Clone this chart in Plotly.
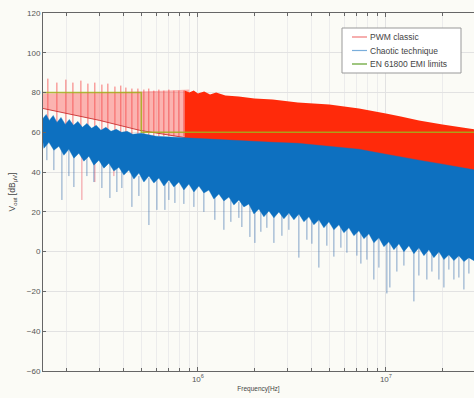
import plotly.graph_objects as go

MHZ = 1e6

# ---- EMI limit (EN 61800) ----
limit_f = [0.15, 0.5, 0.5, 30.0]          # MHz
limit_db = [80, 80, 60, 60]

# ---- PWM classic: pink low-frequency band ----
pink_f = [0.15, 0.3, 0.49, 0.7, 0.9]
pink_top = [79.5, 80, 80.5, 81, 81.5]
pink_floor = [72, 66, 61, 58.5, 57]

# red harmonic spikes (MHz, peak dB)
red_spike_f = [0.1592, 0.1778, 0.1985, 0.2164, 0.2386, 0.260, 0.283, 0.3086, 0.332,
               0.362, 0.389, 0.414, 0.4456, 0.4796, 0.516, 0.548, 0.583, 0.620,
               0.659, 0.701, 0.745, 0.792, 0.842]
red_spike_top = [87, 85, 86.5, 85, 86, 84.5, 85, 84, 84.5, 83, 83.5, 82.5, 82, 82,
                 81.5, 82, 81, 81.5, 81, 81.5, 81, 81, 81]
red_spike_base = 58

# red dips visible below the blue trace
red_dip_f = [0.2415, 0.2831, 0.3574]
red_dip_lo = [26, 35, 38]

# PWM classic solid region (MHz, top, bottom)
red_band_f = [0.85, 0.9, 0.95, 1.0, 1.08, 1.16, 1.25, 1.4, 1.65, 2.0, 2.5, 3.4, 5.0,
              7.2, 10.0, 12.0, 15.0, 20.0, 25.0, 30.0]
red_band_top = [81, 80, 81, 79.5, 80.5, 79, 80, 78.5, 78, 77, 76.5, 75, 74, 72, 69.5,
                68, 66, 64, 62.5, 61.5]
red_band_bot = [55, 55, 55, 55, 55, 55, 55, 55, 54, 53, 53, 52, 51, 49, 47, 45, 43,
                41, 39, 38]

# ---- Chaotic technique: dense band ----
blue_top_f = [0.15, 0.156, 0.162, 0.170, 0.178, 0.187, 0.197, 0.207, 0.218, 0.23,
              0.243, 0.257, 0.272, 0.288, 0.305, 0.324, 0.345, 0.368, 0.393, 0.42,
              0.45, 0.5, 0.6, 0.75, 0.9, 1.2, 1.65, 2.5, 3.4, 5.0, 7.2, 10.0, 12.0,
              15.0, 20.0, 25.0, 30.0]
blue_top_db = [67, 69, 66, 68.5, 65, 67.5, 64, 66.5, 63.5, 65.5, 62.5, 64.5, 62, 63.5,
               61, 62.5, 60.5, 61.5, 60, 60.5, 59, 59.5, 58, 57.5, 57, 56.5, 56, 55,
               54.5, 53, 51.5, 49, 47.5, 46, 44, 42.5, 41]

blue_bot_f = [0.15, 0.1517, 0.1613, 0.1714, 0.1822, 0.1937, 0.206, 0.219, 0.2328,
              0.2475, 0.2632, 0.2798, 0.2975, 0.3162, 0.3362, 0.3574, 0.380, 0.404,
              0.4295, 0.4566, 0.4855, 0.5161, 0.5488, 0.5834, 0.6203, 0.6594, 0.701,
              0.7453, 0.7925, 0.8424, 0.8955, 0.9522, 1.012, 1.076, 1.144, 1.216,
              1.293, 1.375, 1.462, 1.554, 1.652, 1.757, 1.867, 1.986, 2.111, 2.244,
              2.386, 2.537, 2.697, 2.867, 3.048, 3.241, 3.445, 3.663, 3.894, 4.140,
              4.401, 4.68, 4.975, 5.288, 5.623, 5.978, 6.356, 6.757, 7.184, 7.638,
              8.12, 8.63, 9.18, 9.759, 10.37, 11.03, 11.73, 12.47, 13.25, 14.09,
              14.98, 15.93, 16.93, 18.0, 19.14, 20.35, 21.63, 23.0, 24.45, 26.0,
              27.64, 30.0]
blue_bot_db = [55, 52, 55, 51, 53, 48.5, 51.5, 47, 49.5, 45.5, 48, 43.5, 46, 42, 44.5,
               40.5, 42.5, 38.5, 41, 36.5, 39.5, 35, 38, 34.5, 37, 33, 36, 32.5, 35,
               31, 34, 30, 33, 29.5, 31, 26.5, 29, 25.5, 27.5, 23.5, 26, 22.5, 24, 19,
               21.5, 17.5, 20.5, 17, 20, 16.5, 19.5, 16, 19, 15, 17.5, 13.5, 16, 12,
               15, 11, 13.5, 9.5, 12, 8, 10.5, 6.5, 9, 4.5, 7, 2.5, 5, 1, 4, 0, 3, -1,
               2, -2, 1, -3, 0, -4, -1.5, -4.5, -2, -5, -3, -5]

# downward spikes of the chaotic spectrum (MHz, start dB, lowest dB)
blue_spike_f = [0.1573, 0.1714, 0.1891, 0.206, 0.219, 0.2568, 0.2798, 0.3086, 0.3404,
                0.3708, 0.3942, 0.4457, 0.4855, 0.5488, 0.6053, 0.6676, 0.701, 0.7546,
                0.8424, 0.9522, 1.076, 1.231, 1.375, 1.498, 1.652, 1.714, 1.891,
                2.010, 2.163, 2.328, 2.537, 2.798, 3.048, 3.445, 3.8, 4.04, 4.401,
                4.853, 5.288, 5.763, 6.203, 7.01, 7.362, 7.925, 8.63, 9.18, 10.12,
                10.50, 11.44, 12.47, 14.09, 14.98, 16.52, 17.57, 19.14, 20.35, 21.63,
                23.0, 24.45, 26.0, 27.64]
blue_spike_hi = [55, 54, 53, 51, 50, 48, 46, 45, 44, 42, 41, 39, 38, 37, 36, 35, 35,
                 34, 33, 32, 31, 29, 27, 26, 25, 25, 24, 23, 22, 21, 20, 20, 19, 19,
                 17, 16, 16, 15, 14, 13, 12, 11, 10, 9, 8, 7, 5, 5, 4, 3, 2, 2, 1, 0,
                 0, -1, -1, -2, -2, -2, -3]
blue_spike_lo = [46, 41, 26, 38, 32.5, 38, 35, 32, 27, 30, 32, 22.5, 28, 13.4, 21, 21,
                 26, 24.5, 24, 22.5, 20, 16, 11, 15, 17, 12.4, 7.4, 4.4, 10, 12, 4.4, 8,
                 11, -3, 6, 4, -8, 3, -2.5, 2, -0.5, -2, -6, -4, -14, -8, -21, -18, -10,
                 -7, -25, -12, -14, -10, -14, -18, -9, -14, -13, -19, -11]

# ---- legend ----
legend_names = ["PWM classic", "Chaotic technique", "EN 61800 EMI limits"]
legend_colors = ["#f07878", "#7aaedb", "#5f9f2a"]

# ---- axes ----
y_ticks = [-60, -40, -20, 0, 20, 40, 60, 80, 100, 120]
x_major = [1e6, 1e7]
x_major_text = ["10<sup>6</sup>", "10<sup>7</sup>"]
x_minor = [2e5, 3e5, 4e5, 5e5, 6e5, 7e5, 8e5, 9e5, 2e6, 3e6, 4e6, 5e6, 6e6, 7e6,
           8e6, 9e6, 2e7, 3e7]


def hz(v):
    return [a * MHZ for a in v]


def seg(xs, lo, hi):
    X, Y = [], []
    for x, a, b in zip(xs, lo, hi):
        X += [x * MHZ, x * MHZ, None]
        Y += [a, b, None]
    return X, Y


fig = go.Figure()

# pink band
fig.add_trace(go.Scatter(x=hz(pink_f) + hz(pink_f[::-1]), y=pink_top + pink_floor[::-1],
                         fill="toself", fillcolor="rgba(250,90,90,0.45)", mode="none",
                         hoverinfo="skip", showlegend=False))
# red spikes
sx, sy = seg(red_spike_f, [red_spike_base] * len(red_spike_f), red_spike_top)
fig.add_trace(go.Scatter(x=sx, y=sy, mode="lines", line=dict(color="rgba(245,70,70,0.75)", width=1),
                         hoverinfo="skip", showlegend=False))
# red floor line
fig.add_trace(go.Scatter(x=hz(pink_f), y=pink_floor, mode="lines",
                         line=dict(color="rgba(200,40,40,0.85)", width=1),
                         hoverinfo="skip", showlegend=False))
# red dips
dx, dy = seg(red_dip_f, [60] * len(red_dip_f), red_dip_lo)
fig.add_trace(go.Scatter(x=dx, y=dy, mode="lines", line=dict(color="rgba(240,120,130,0.8)", width=1),
                         hoverinfo="skip", showlegend=False))
# red solid band
fig.add_trace(go.Scatter(x=hz(red_band_f) + hz(red_band_f[::-1]),
                         y=red_band_top + red_band_bot[::-1],
                         fill="toself", fillcolor="#ff2a0a", mode="none",
                         hoverinfo="skip", showlegend=False))
# blue spikes
bx, by = seg(blue_spike_f, blue_spike_hi, blue_spike_lo)
fig.add_trace(go.Scatter(x=bx, y=by, mode="lines", line=dict(color="rgba(50,105,170,0.6)", width=1),
                         hoverinfo="skip", showlegend=False))
# blue dense band
fig.add_trace(go.Scatter(x=hz(blue_top_f) + hz(blue_bot_f[::-1]),
                         y=blue_top_db + blue_bot_db[::-1],
                         fill="toself", fillcolor="#0d70c0", mode="lines",
                         line=dict(color="rgba(13,112,192,0.5)", width=0.8),
                         hoverinfo="skip", showlegend=False))
# limits
fig.add_trace(go.Scatter(x=hz(limit_f), y=limit_db, mode="lines",
                         line=dict(color="#a2b21c", width=1.5), opacity=0.85,
                         hoverinfo="skip", showlegend=False))

# manual legend (box, line samples, labels)
px = lambda p: (p - 43) / 431.0
py = lambda p: 1 - (p - 13) / 358.0
shapes = [dict(type="rect", xref="paper", yref="paper", x0=px(342), x1=px(461),
               y0=py(73), y1=py(28), fillcolor="white", line=dict(color="#999", width=1),
               layer="above")]
annotations = []
for i, (name, col) in enumerate(zip(legend_names, legend_colors)):
    yy = py(37 + 13.5 * i)
    shapes.append(dict(type="line", xref="paper", yref="paper", x0=px(352), x1=px(367),
                       y0=yy, y1=yy, line=dict(color=col, width=1.2), layer="above"))
    annotations.append(dict(xref="paper", yref="paper", x=px(368), y=yy, text=name,
                            showarrow=False, xanchor="left", yanchor="middle",
                            font=dict(family="Liberation Sans, Arial, sans-serif",
                                      size=8.5, color="#444")))

axis_font = dict(family="Liberation Sans, Arial, sans-serif", size=8, color="#555")
bg = "#fbfbf6"
fig.update_layout(
    width=474, height=398,
    margin=dict(l=43, r=0, t=13, b=27),
    paper_bgcolor=bg, plot_bgcolor=bg,
    font=axis_font, showlegend=False,
    shapes=shapes, annotations=annotations,
    xaxis=dict(type="log", range=[5.1761, 7.4686],
               tickvals=x_major, ticktext=x_major_text, ticks="inside", ticklen=4,
               tickcolor="#666", showline=True, linecolor="#666", linewidth=1,
               mirror="ticks", showgrid=True, gridcolor="#e2e2e2", gridwidth=1,
               minor=dict(tickvals=x_minor, ticks="inside", ticklen=3, tickcolor="#666",
                          showgrid=True, gridcolor="#ececec", gridwidth=1),
               title=dict(text="Frequency[Hz]", standoff=3,
                          font=dict(size=6.5, color="#444")),
               tickfont=axis_font, zeroline=False),
    yaxis=dict(range=[-60, 120], tickvals=y_ticks, ticks="inside", ticklen=3,
               tickcolor="#666", showline=True, linecolor="#666", linewidth=1,
               showgrid=True, gridcolor="#e2e2e2", zeroline=False,
               title=dict(text="V<sub>out</sub> [dB<sub>µV</sub>]", standoff=9,
                          font=dict(size=8.5, color="#444")),
               tickfont=axis_font),
)

fig.write_html("out.html", config={"displayModeBar": False},
               post_script="document.body.style.margin='0';document.body.style.overflow='hidden';")
